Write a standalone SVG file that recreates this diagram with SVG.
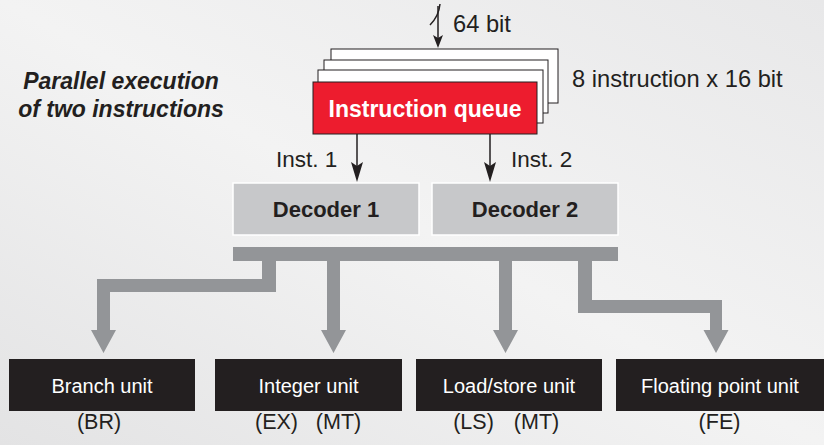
<svg xmlns="http://www.w3.org/2000/svg" width="824" height="445" viewBox="0 0 824 445">
<defs>
<linearGradient id="bg" x1="0" y1="1" x2="1" y2="0">
<stop offset="0" stop-color="#e3e3e4"/>
<stop offset="0.5" stop-color="#f3f3f3"/>
<stop offset="1" stop-color="#e8e8e9"/>
</linearGradient>
<style>
text{font-family:"Liberation Sans",Arial,Helvetica,sans-serif;fill:#231f20}
.reg{font-size:23.7px}
.inst{font-size:22.5px}
.bi{font-size:23px;font-weight:bold;font-style:italic}
.stack{fill:#ffffff;stroke:#231f20;stroke-width:1}
.dec{fill:#c7c8ca;stroke:#ffffff;stroke-width:1.5}
.dect{font-size:22px;font-weight:bold;text-anchor:middle}
.unit{fill:#231f20}
.unitt{font-size:20px;fill:#ffffff;text-anchor:middle}
.lab{font-size:21.5px;text-anchor:middle}
.bus{fill:#939598}
.thin{stroke:#231f20;stroke-width:1.5;fill:none}
.head{fill:#231f20}
</style>
</defs>
<rect x="0" y="0" width="824" height="445" fill="url(#bg)"/>

<g id="title">
<text class="bi" x="121" y="89" text-anchor="middle">Parallel execution</text>
<text class="bi" x="121" y="117" text-anchor="middle">of two instructions</text>
</g>

<g id="instruction-queue">
<rect class="stack" x="331" y="49" width="227" height="54"/>
<rect class="stack" x="324" y="60" width="224" height="53"/>
<rect class="stack" x="318" y="70" width="225" height="53"/>
<rect x="313" y="82" width="224" height="52" fill="#ed1c2e" stroke="#231f20" stroke-width="1"/>
<text x="425" y="117" font-size="23" font-weight="bold" text-anchor="middle" style="fill:#ffffff">Instruction queue</text>
</g>

<g id="queue-labels">
<text class="reg" x="453" y="32">64 bit</text>
<text class="reg" x="572" y="87">8 instruction x 16 bit</text>
<text class="inst" x="276" y="167">Inst. 1</text>
<text class="inst" x="511" y="167">Inst. 2</text>
</g>

<g id="decoder1">
<rect class="dec" x="233" y="183" width="186" height="52"/>
<text class="dect" x="326" y="217">Decoder 1</text>
</g>
<g id="decoder2">
<rect class="dec" x="432" y="183" width="186" height="52"/>
<text class="dect" x="525" y="217">Decoder 2</text>
</g>

<g id="branch-unit">
<rect class="unit" x="9" y="359" width="186" height="52"/>
<text class="unitt" x="102" y="393">Branch unit</text>
<text class="lab" x="99" y="429">(BR)</text>
</g>
<g id="integer-unit">
<rect class="unit" x="215" y="359" width="187" height="52"/>
<text class="unitt" x="308.5" y="393">Integer unit</text>
<text class="lab" y="429"><tspan x="276.5">(EX)</tspan><tspan x="338.5">(MT)</tspan></text>
</g>
<g id="loadstore-unit">
<rect class="unit" x="416" y="359" width="186" height="52"/>
<text class="unitt" x="509" y="393">Load/store unit</text>
<text class="lab" y="429"><tspan x="473.5">(LS)</tspan><tspan x="536.5">(MT)</tspan></text>
</g>
<g id="fp-unit">
<rect class="unit" x="616" y="359" width="208" height="52"/>
<text class="unitt" x="720" y="393">Floating point unit</text>
<text class="lab" x="719.5" y="429">(FE)</text>
</g>

<g id="connectors">
<line class="thin" x1="438" y1="6" x2="438" y2="38"/>
<path class="head" d="M433,35 L438,38 L443,35 L438,48 Z"/>
<path d="M430,25 C435,20 439,14 440,4" class="thin" stroke-width="1.3"/>
<line class="thin" x1="357" y1="134" x2="357" y2="168"/>
<path class="head" d="M351,162 L357,166 L363,162 L357,182 Z"/>
<line class="thin" x1="490" y1="134" x2="490" y2="168"/>
<path class="head" d="M484,162 L490,166 L496,162 L490,182 Z"/>

<rect class="bus" x="233" y="247" width="385" height="14"/>
<path class="bus" d="M262,261 H276 V292 H110 V330 H116 L103.5,353 L91,330 H97 V279 H262 Z"/>
<path class="bus" d="M327,261 H340 V330 H346 L333.5,353 L321,330 H327 Z"/>
<path class="bus" d="M499,261 H512 V330 H518 L505.5,353 L493,330 H499 Z"/>
<path class="bus" d="M578,261 H592 V300 H722 V330 H728.5 L716,353 L703.5,330 H710 V313 H578 Z"/>
</g>
</svg>
